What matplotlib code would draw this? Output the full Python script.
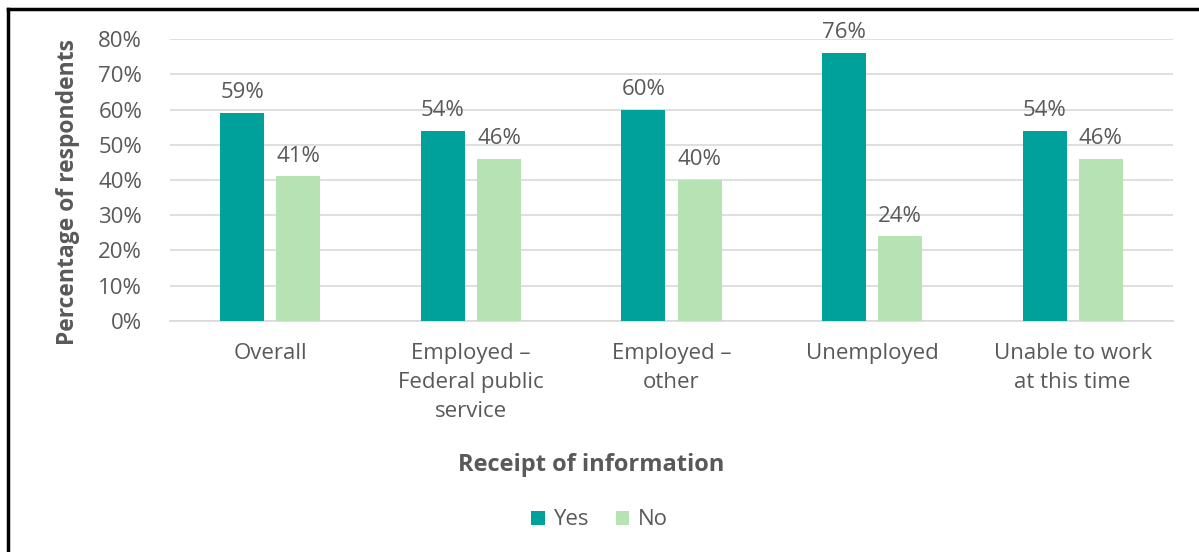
import matplotlib.pyplot as plt
import numpy as np
from matplotlib.lines import Line2D

plt.rcParams["font.family"] = ["Open Sans", "DejaVu Sans"]

categories = [
    "Overall",
    "Employed \u2013\nFederal public\nservice",
    "Employed \u2013\nother",
    "Unemployed",
    "Unable to work\nat this time",
]
yes_values = [59, 54, 60, 76, 54]
no_values = [41, 46, 40, 24, 46]

YES_COLOR = "#00A19A"
NO_COLOR = "#B7E3B4"
TEXT_COLOR = "#595959"

fig = plt.figure(figsize=(11.99, 5.52), dpi=100)
ax = fig.add_axes([0.1418, 0.4185, 0.8365, 0.5108])

x = np.arange(len(categories))
bar_width = 0.22
offset = 0.14

bars_yes = ax.bar(x - offset, yes_values, width=bar_width, color=YES_COLOR, label="Yes", zorder=3)
bars_no = ax.bar(x + offset, no_values, width=bar_width, color=NO_COLOR, label="No", zorder=3)

for cont in (bars_yes, bars_no):
    ax.bar_label(cont, labels=[f"{v}%" for v in cont.datavalues], padding=7,
                 fontsize=16, color=TEXT_COLOR)

ax.set_xlim(-0.5, len(categories) - 0.5)
ax.set_ylim(0, 80)
ax.set_yticks(range(0, 81, 10))
ax.set_yticklabels([f"{v}%" for v in range(0, 81, 10)])
ax.set_xticks(x)
ax.set_xticklabels(categories, linespacing=1.5)
ax.tick_params(axis="both", length=0, labelsize=16, labelcolor=TEXT_COLOR)
ax.tick_params(axis="y", pad=20)
ax.tick_params(axis="x", pad=16)
ax.yaxis.grid(True, color="#D9D9D9", linewidth=1.2, zorder=0)
for side in ("top", "right", "left"):
    ax.spines[side].set_visible(False)
ax.spines["bottom"].set_color("#D9D9D9")
ax.spines["bottom"].set_linewidth(1.2)

ax.set_ylabel("Percentage of respondents", fontsize=16.5, fontweight="bold",
              color=TEXT_COLOR)
ax.yaxis.set_label_coords(-0.0897, 0.457)
fig.text(0.493, 0.157, "Receipt of information", ha="center", va="center",
         fontsize=17, fontweight="bold", color=TEXT_COLOR)

fig.legend(handles=[bars_yes, bars_no], labels=["Yes", "No"], loc="center",
           bbox_to_anchor=(0.5, 0.058), ncol=2, frameon=False, fontsize=16,
           labelcolor=TEXT_COLOR, handlelength=0.6, handleheight=0.6,
           handletextpad=0.4, columnspacing=1.2)

# Black frame on the left and top edges
fig.add_artist(Line2D([0.0067, 0.0067], [0, 0.983], transform=fig.transFigure,
                      color="black", linewidth=2.5))
fig.add_artist(Line2D([0.0067, 1.0], [0.983, 0.983], transform=fig.transFigure,
                      color="black", linewidth=2.5))

fig.savefig("out.png", dpi=100, facecolor="white")
